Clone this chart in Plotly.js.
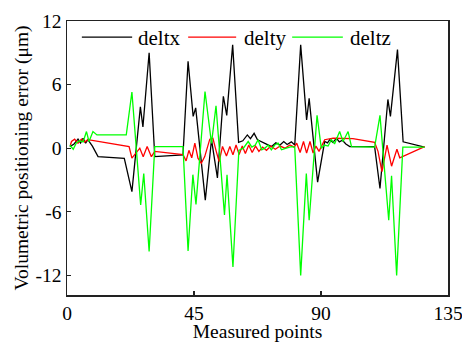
<!DOCTYPE html>
<html>
<head>
<meta charset="utf-8">
<script src="https://cdn.plot.ly/plotly-3.0.1.min.js"></script>
<style>html,body{margin:0;padding:0;background:#fff;}#chart{width:462px;height:342px;}</style>
</head>
<body>
<div id="chart"></div>
<script>
// deltx (black)
var xDeltx = [1.0, 2.5, 3.9, 4.8, 5.7, 6.6, 7.4, 9.0, 11.0, 20.3, 23.0, 26.0, 26.9, 29.1, 31.1, 41.1, 42.9, 44.7, 45.6, 49.0, 51.2, 53.3, 55.4, 56.6, 58.7, 60.8, 62.3, 63.9, 65.0, 66.3, 67.5, 69.0, 71.0, 72.5, 74.0, 75.5, 76.8, 78.0, 79.5, 80.7, 82.8, 84.9, 85.8, 88.8, 91.3, 92.3, 93.1, 94.2, 95.5, 96.5, 97.6, 98.8, 100.2, 109.0, 110.9, 113.7, 114.6, 117.1, 119.1, 126.7];
var deltx  = [0.15, 0.4, 0.85, 0.5, 0.94, 0.47, 0.8, 0.2, -0.8, -0.95, -4.1, 3.9, 2.0, 9.0, -0.8, -0.63, 8.2, 3.0, 3.8, -4.9, 0.8, -2.8, 4.9, 3.1, 9.75, 0.55, 0.7, 1.25, 0.9, 1.4, 0.8, 0.6, 0.3, 0.15, 0.5, 0.3, 0.63, 0.35, 0.6, 0.3, 9.75, 2.67, 4.7, -3.2, 0.63, 0.5, 0.8, 0.55, 0.94, 0.6, 0.75, 0.4, 0.15, 0.15, -3.8, 4.6, 3.0, 9.3, 0.6, 0.1];
// delty (red)
var xDelty = [1.2, 1.6, 2.7, 3.9, 5.1, 6.3, 7.4, 22.0, 23.0, 24.3, 25.8, 27.0, 28.4, 29.9, 31.1, 41.1, 42.2, 43.2, 44.2, 45.3, 46.4, 47.6, 48.8, 50.6, 51.7, 52.9, 53.9, 55.1, 56.5, 57.7, 58.8, 59.9, 61.0, 62.1, 63.2, 64.4, 65.6, 66.8, 68.0, 69.3, 70.7, 72.2, 73.8, 75.5, 77.2, 79.0, 80.5, 81.4, 82.6, 83.8, 84.9, 86.1, 87.2, 88.2, 89.3, 91.3, 94.3, 101.3, 109.0, 110.2, 111.6, 113.4, 115.0, 116.9, 117.9, 126.7];
var delty  = [0.3, 0.63, 0.85, 0.47, 0.85, 0.6, 0.8, 0.15, -0.94, -0.5, 0.0, -0.8, 0.15, -0.8, -0.3, -0.6, -1.2, -0.2, -0.9, 0.47, -0.94, -1.42, -0.79, 0.85, 0.94, -0.32, -1.26, 0.16, -0.73, 0.16, -0.63, 0.3, -0.6, 0.2, -0.5, 0.3, -0.4, 0.2, -0.3, 0.1, -0.2, 0.2, -0.1, 0.2, 0.0, 0.3, 0.1, 0.47, -0.4, 0.63, -0.47, 0.63, -0.45, 0.2, -0.3, 0.8, 0.94, 0.9, 0.55, -0.3, -2.2, 0.3, -1.7, -0.1, -0.9, 0.15];
// deltz (green)
var xDeltz = [1.0, 2.2, 3.3, 4.5, 5.7, 6.9, 7.8, 9.2, 10.6, 21.0, 23.0, 26.1, 27.2, 29.1, 31.1, 41.1, 42.9, 44.6, 45.7, 48.9, 51.2, 52.8, 55.8, 56.7, 58.8, 60.9, 62.5, 64.2, 65.5, 66.7, 67.7, 69.0, 70.1, 71.3, 72.4, 73.6, 74.8, 76.0, 77.7, 79.5, 80.7, 82.8, 84.8, 85.8, 88.6, 90.1, 91.2, 92.5, 93.7, 94.8, 96.6, 97.8, 99.6, 100.8, 109.0, 110.9, 114.0, 115.0, 116.8, 119.0, 126.7];
var deltz  = [0.3, -0.1, 0.5, 0.7, 0.6, 1.57, 0.63, 1.57, 1.25, 1.25, 5.3, -5.35, -2.4, -9.75, 0.15, 0.15, -9.7, -2.5, -5.3, 5.35, 0.45, 4.0, -6.3, -2.5, -11.2, -0.2, 0.0, 0.63, 0.1, 0.3, 0.8, -0.15, 0.0, 0.3, -0.15, 0.3, 0.47, -0.15, 0.0, 0.15, 0.1, -12.0, -2.4, -6.8, 3.1, 0.0, 0.3, 0.2, 0.8, 0.4, 1.57, 0.63, 1.57, 0.15, 0.1, 3.1, -6.8, -2.6, -12.0, 0.1, 0.1];

var seriesNames = ['deltx', 'delty', 'deltz'];
var xTicks = [0, 45, 90, 135];
var yTicks = [-12, -6, 0, 6, 12];

var SERIF = 'Liberation Serif';
var font = {family: SERIF, size: 19.5, color: '#000'};
var colors = ['#000000', '#ff0000', '#00ff00'];

var traces = [
  {x: xDeltx, y: deltx, name: seriesNames[0], type: 'scatter', mode: 'lines', line: {color: colors[0], width: 1.3}},
  {x: xDelty, y: delty, name: seriesNames[1], type: 'scatter', mode: 'lines', line: {color: colors[1], width: 1.3}},
  {x: xDeltz, y: deltz, name: seriesNames[2], type: 'scatter', mode: 'lines', line: {color: colors[2], width: 1.3}}
];

// legend drawn in paper coordinates (key lines + labels)
var legLineX = [[0.039, 0.171], [0.318, 0.444], [0.591, 0.724]];
var legTextX = [0.184, 0.462, 0.740];
var legY = 0.941;
var shapes = [], annotations = [];
for (var i = 0; i < 3; i++) {
  shapes.push({type: 'line', xref: 'paper', yref: 'paper', x0: legLineX[i][0], x1: legLineX[i][1], y0: legY, y1: legY,
               line: {color: colors[i], width: 1.3}});
  annotations.push({xref: 'paper', yref: 'paper', x: legTextX[i], y: legY - 0.004, xanchor: 'left', yanchor: 'middle',
                    text: seriesNames[i], showarrow: false, borderpad: 0, font: {family: SERIF, size: 21, color: '#000'}});
}

var axisCommon = {
  showgrid: false, zeroline: false, showline: true, mirror: true,
  linecolor: '#222', linewidth: 1.5, ticks: 'inside', ticklen: 4, tickwidth: 1.2, tickcolor: '#222',
  tickfont: {family: SERIF, size: 19.5, color: '#000'}, ticklabeloverflow: 'allow'
};

var layout = {
  width: 462, height: 342,
  margin: {l: 67, r: 14, t: 21, b: 47},
  paper_bgcolor: '#fff', plot_bgcolor: '#fff',
  font: font,
  showlegend: false,
  shapes: shapes,
  annotations: annotations,
  xaxis: Object.assign({}, axisCommon, {
    range: [0, 135], tickmode: 'array', tickvals: xTicks, ticktext: xTicks.map(String),
    title: {text: 'Measured points', font: {family: SERIF, size: 19.5, color: '#000'}, standoff: 0}
  }),
  yaxis: Object.assign({}, axisCommon, {
    range: [-13.85, 12], tickmode: 'array', tickvals: yTicks, ticktext: yTicks.map(function(v){return v < 0 ? '-' + Math.abs(v) : String(v);}),
    title: {text: 'Volumetric positioning error (\u03bcm)', font: {family: SERIF, size: 19.5, color: '#000'}, standoff: 2}
  })
};

Plotly.newPlot('chart', traces, layout, {displayModeBar: false, staticPlot: true});
</script>
</body>
</html>
